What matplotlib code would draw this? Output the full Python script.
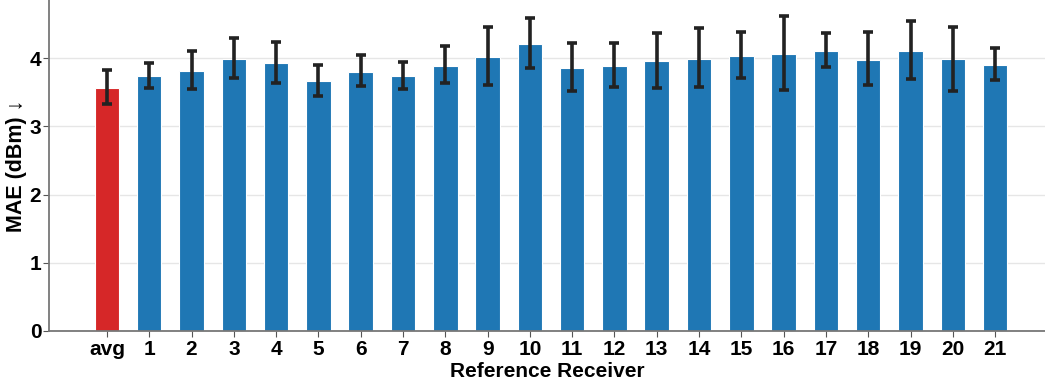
import matplotlib
matplotlib.use("Agg")
import matplotlib.pyplot as plt
import numpy as np

# MAE per reference receiver, with the average in front
labels = ["avg"] + [str(i) for i in range(1, 22)]
mae = [3.56, 3.74, 3.81, 3.98, 3.93, 3.66, 3.80, 3.73, 3.88, 4.01, 4.21,
       3.85, 3.88, 3.95, 3.99, 4.03, 4.06, 4.10, 3.97, 4.10, 3.98, 3.90]
err_low = [3.33, 3.56, 3.54, 3.70, 3.64, 3.45, 3.59, 3.54, 3.63, 3.60, 3.85,
           3.51, 3.58, 3.56, 3.57, 3.71, 3.53, 3.87, 3.60, 3.69, 3.52, 3.68]
err_high = [3.82, 3.93, 4.11, 4.29, 4.24, 3.90, 4.05, 3.94, 4.17, 4.46, 4.59,
            4.22, 4.22, 4.37, 4.44, 4.38, 4.61, 4.36, 4.38, 4.54, 4.45, 4.15]

plt.rcParams['font.family'] = ['Liberation Sans', 'DejaVu Sans']

fig = plt.figure(figsize=(10.45, 3.83), dpi=100)
ax = fig.add_axes([49/1045, 52/383, 996/1045, 331/383])

x = np.arange(len(labels))
mae = np.array(mae)
yerr = [mae - np.array(err_low), np.array(err_high) - mae]
colors = ["#d62728"] + ["#1f77b4"] * (len(labels) - 1)

ax.bar(x, mae, width=0.58, color=colors, edgecolor="#ffffff", linewidth=0.8, zorder=2)
ax.errorbar(x, mae, yerr=yerr, fmt="none", ecolor="#222222", elinewidth=2.6,
            capsize=3.5, capthick=2.6, zorder=3)

ax.set_xlim(-1.37, 22.18)
ax.set_ylim(0, 4.85)
ax.set_xticks(x)
ax.set_xticklabels(labels)
ax.set_yticks([0, 1, 2, 3, 4])
ax.tick_params(axis="x", labelsize=15, length=4, color="#555555", pad=2.5)
ax.tick_params(axis="y", labelsize=15, length=4, color="#555555", pad=1.5)
for lbl in ax.get_xticklabels() + ax.get_yticklabels():
    lbl.set_fontweight("bold")

ax.set_xlabel("Reference Receiver", fontsize=15, fontweight="bold", labelpad=2)
ax.set_ylabel("MAE (dBm) \u2193", fontsize=15.5, fontweight="bold", labelpad=2)

ax.grid(axis="y", color="#e6e6e6", linewidth=1, zorder=0)
ax.set_axisbelow(True)
for side in ["top", "right"]:
    ax.spines[side].set_visible(False)
for side in ["left", "bottom"]:
    ax.spines[side].set_color("#777777")
    ax.spines[side].set_linewidth(1.3)

fig.savefig("out.png", dpi=100)
